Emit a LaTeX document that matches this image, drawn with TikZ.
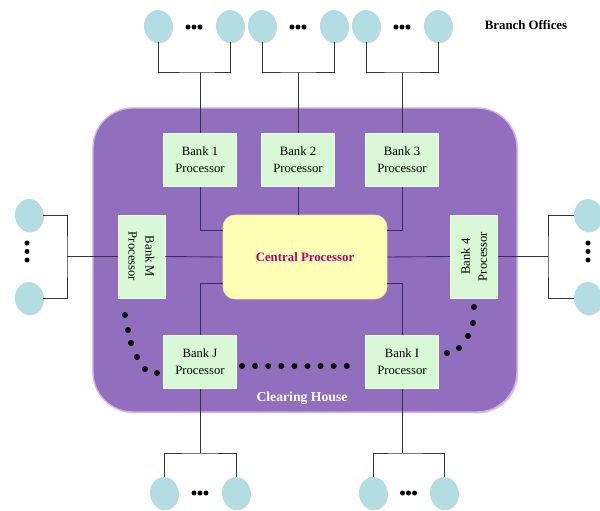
\documentclass[tikz,border=0pt]{standalone}
\usepackage{fontspec}
\setmainfont{Liberation Serif}
\usetikzlibrary{shapes.geometric,shadows}
\definecolor{housefill}{RGB}{146,110,190}
\definecolor{houseedge}{RGB}{205,176,236}
\definecolor{bankfill}{RGB}{216,248,214}
\definecolor{bankedge}{RGB}{236,252,236}
\definecolor{cpfill}{RGB}{255,255,182}
\definecolor{cptext}{RGB}{180,0,115}
\definecolor{officefill}{RGB}{178,221,226}
\definecolor{linkblue}{RGB}{48,44,118}
\tikzset{
  bank/.style={draw=bankedge,fill=bankfill,align=center,inner sep=1pt,
    minimum width=1.46cm,minimum height=1.06cm,font=\fontsize{7.2}{9.6}\selectfont},
  sidebank/.style={bank,minimum width=1.66cm,minimum height=0.94cm},
  office/.style={ellipse,fill=officefill,inner sep=0pt,minimum width=0.56cm,minimum height=0.64cm,
    drop shadow={shadow xshift=0.6pt,shadow yshift=-0.8pt,opacity=0.35}},
  tie/.style={draw=black!80,line width=0.5pt},
  link/.style={draw=linkblue,line width=0.5pt},
}
\begin{document}
\begin{tikzpicture}[x=0.02cm,y=-0.02cm]
\clip (0,0) rectangle (600,511);
% clearing house
\filldraw[fill=housefill,draw=houseedge,line width=0.8pt,rounded corners=0.8cm,
  drop shadow={shadow xshift=0.8pt,shadow yshift=-0.8pt,opacity=0.3}] (93,108) rectangle (517,412);
\node[font=\fontsize{7.8}{9}\selectfont\bfseries,text=white] (ch) at (302,398) {Clearing House};
\node[draw=cpfill!80!orange,fill=cpfill,rounded corners=0.24cm,minimum width=3.28cm,minimum height=1.68cm,
  font=\fontsize{7.3}{9}\selectfont\bfseries,text=cptext] (cp) at (305,257) {Central Processor};
% bank processors
\foreach \n/\x/\y/\t in {b1/200/160/1,b2/298/160/2,b3/402/160/3,bj/200/362/J,bi/402/362/I}
  \node[bank] (\n) at (\x,\y) {Bank \t\\Processor};
\node[sidebank,rotate=-90] (bm) at (141.5,256.5) {Bank M\\Processor};
\node[sidebank,rotate=90] (b4) at (474,256.5) {Bank 4\\Processor};
% links to the central processor
\draw[link] (b1.south) |- ([yshift=0.54cm]cp.west);
\draw[link] (b2.south) -- (b2.south |- cp.north);
\draw[link] (b3.south) |- ([yshift=0.54cm]cp.east);
\draw[link] (bj.north) |- ([yshift=-0.52cm]cp.west);
\draw[link] (bi.north) |- ([yshift=-0.52cm]cp.east);
\draw[link] (bm.north) -- (cp.west);
\draw[link] (cp.east) -- (b4.north);
% the other banks
\foreach \x in {242,255.1,...,348} \fill (\x,366) circle (0.06cm);
\foreach \x/\y in {125/315,128/330,131/343,137/357,145/369,157/373} \fill (\x,\y) circle (0.06cm);
\foreach \x/\y in {474/307,473/323,468/336,459/348,447/353} \fill (\x,\y) circle (0.06cm);
% branch offices above
\foreach \g/\a/\b/\s in {1/158/230/200,2/262/334/298,3/366/438/402} {
  \node[office] (t\g a) at (\a,26) {};
  \node[office] (t\g b) at (\b,26) {};
  \foreach \d in {-6,0,6} \fill ({(\a+\b)/2+\d},27) circle (0.05cm);
  \coordinate (tj\g) at (\s,72);
  \draw[tie] (t\g a.south) |- (tj\g) -| (t\g b.south);
  \draw[tie] (tj\g) -- (b\g.north);
}
% branch offices below
\foreach \n/\a/\b in {j/164/236,i/373/444} {
  \node[office] (u\n a) at (\a,493) {};
  \node[office] (u\n b) at (\b,493) {};
  \foreach \d in {-6,0,6} \fill ({(\a+\b)/2+\d},493) circle (0.05cm);
  \coordinate (uj\n) at (b\n.south |- 0,453);
  \draw[tie] (u\n a.north) |- (uj\n) -| (u\n b.north);
  \draw[tie] (uj\n) -- (b\n.south);
}
% branch offices at the sides
\node[office] (ma) at (29,215) {};
\node[office] (mb) at (29,298) {};
\node[office] (fa) at (588,215) {};
\node[office] (fb) at (588,298) {};
\foreach \y in {243,251.5,...,268} {\fill (27,\y) circle (0.05cm); \fill (588,\y) circle (0.05cm);}
\coordinate (mj) at (67,256.5);
\coordinate (fj) at (548,256.5);
\draw[tie] (ma.east) -| (mj) |- (mb.east);
\draw[tie] (mj) -- (bm.south);
\draw[tie] (fa.west) -| (fj) |- (fb.west);
\draw[tie] (fj) -- (b4.south);
\node[font=\fontsize{7.3}{9}\selectfont\bfseries] (bo) at (526,25) {Branch Offices};
\end{tikzpicture}
\end{document}
